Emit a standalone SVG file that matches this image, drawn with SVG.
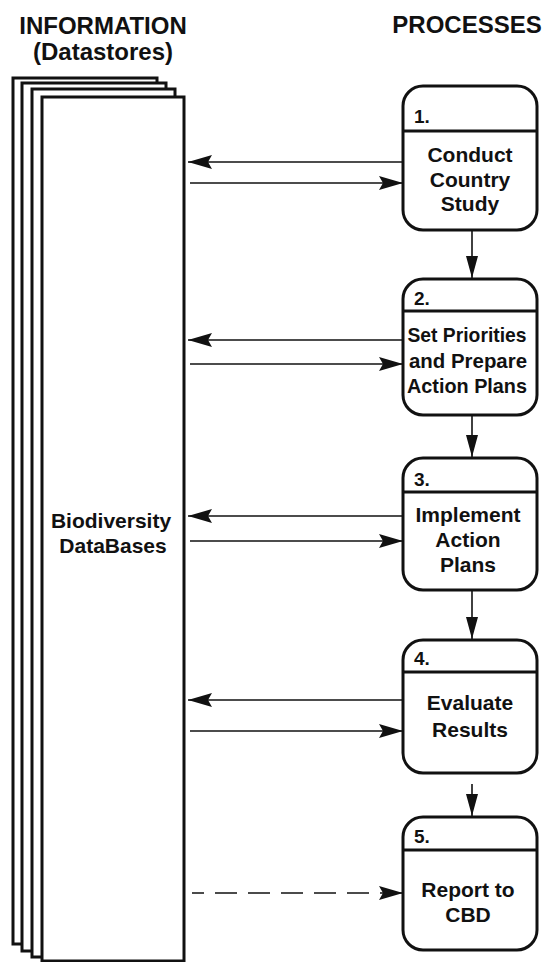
<svg xmlns="http://www.w3.org/2000/svg" width="552" height="962" viewBox="0 0 552 962">
<style>
.hdr{font-family:"Liberation Sans",Arial,sans-serif;font-weight:bold;font-size:24px;fill:#111;text-anchor:middle}
.t{font-family:"Liberation Sans",Arial,sans-serif;font-weight:bold;font-size:21px;fill:#111;text-anchor:middle}
.n{font-family:"Liberation Sans",Arial,sans-serif;font-weight:bold;font-size:19px;fill:#111}
.page{fill:#fff;stroke:#111;stroke-width:3}
.box{fill:#fff;stroke:#111;stroke-width:3}
.div{stroke:#111;stroke-width:3}
.c{stroke:#111;stroke-width:1.6;fill:none}
.dash{stroke-dasharray:22 11}
</style>
<defs>
<marker id="ah" viewBox="0 0 24 14" refX="24" refY="7" markerWidth="24" markerHeight="14" markerUnits="userSpaceOnUse" orient="auto">
<path d="M0,0 L24,7 L0,14 L4,7 Z" fill="#111"/>
</marker>
<marker id="ad" viewBox="0 0 22 12" refX="22" refY="6" markerWidth="22" markerHeight="12" markerUnits="userSpaceOnUse" orient="auto">
<path d="M0,0 L22,6 L0,12 Z" fill="#111"/>
</marker>
</defs>
<rect width="552" height="962" fill="#fff"/>
<text class="hdr" x="103" y="34">INFORMATION</text>
<text class="hdr" x="103" y="60" font-size="21">(Datastores)</text>
<text class="hdr" x="467" y="33">PROCESSES</text>

<g id="datastore">
<rect class="page" x="13" y="78" width="144" height="866"/>
<rect class="page" x="22" y="83" width="144" height="868"/>
<rect class="page" x="32" y="89" width="143" height="868"/>
<rect class="page" x="42" y="97" width="142" height="864"/>
<text class="t" x="111" y="528">Biodiversity</text>
<text class="t" x="113" y="553">DataBases</text>
</g>

<g id="p1">
<rect class="box" x="403" y="86" width="134" height="144" rx="20"/>
<line class="div" x1="403" y1="131" x2="537" y2="131"/>
<text class="n" x="414" y="123">1.</text>
<text class="t" x="470" y="162">Conduct</text>
<text class="t" x="470" y="187">Country</text>
<text class="t" x="470" y="211">Study</text>
</g>
<g id="p2">
<rect class="box" x="403" y="279" width="134" height="136" rx="20"/>
<line class="div" x1="403" y1="311" x2="537" y2="311"/>
<text class="n" x="414" y="305">2.</text>
<text class="t" x="467" y="342" textLength="119" lengthAdjust="spacingAndGlyphs">Set Priorities</text>
<text class="t" x="468" y="368" textLength="118" lengthAdjust="spacingAndGlyphs">and Prepare</text>
<text class="t" x="467" y="393" textLength="120" lengthAdjust="spacingAndGlyphs">Action Plans</text>
</g>
<g id="p3">
<rect class="box" x="403" y="458" width="134" height="132" rx="20"/>
<line class="div" x1="403" y1="492" x2="537" y2="492"/>
<text class="n" x="414" y="486">3.</text>
<text class="t" x="468" y="522">Implement</text>
<text class="t" x="468" y="547">Action</text>
<text class="t" x="468" y="572">Plans</text>
</g>
<g id="p4">
<rect class="box" x="403" y="640" width="134" height="133" rx="20"/>
<line class="div" x1="403" y1="672" x2="537" y2="672"/>
<text class="n" x="414" y="665">4.</text>
<text class="t" x="470" y="710">Evaluate</text>
<text class="t" x="470" y="737">Results</text>
</g>
<g id="p5">
<rect class="box" x="403" y="817" width="134" height="133" rx="20"/>
<line class="div" x1="403" y1="850" x2="537" y2="850"/>
<text class="n" x="414" y="843">5.</text>
<text class="t" x="468" y="897">Report to</text>
<text class="t" x="468" y="922">CBD</text>
</g>

<g id="connectors">
<line class="c" x1="403" y1="162" x2="188" y2="162" marker-end="url(#ah)"/>
<line class="c" x1="190" y1="183" x2="403" y2="183" marker-end="url(#ah)"/>
<line class="c" x1="403" y1="340" x2="188" y2="340" marker-end="url(#ah)"/>
<line class="c" x1="190" y1="364" x2="403" y2="364" marker-end="url(#ah)"/>
<line class="c" x1="403" y1="516" x2="188" y2="516" marker-end="url(#ah)"/>
<line class="c" x1="190" y1="541" x2="403" y2="541" marker-end="url(#ah)"/>
<line class="c" x1="403" y1="700" x2="188" y2="700" marker-end="url(#ah)"/>
<line class="c" x1="190" y1="731" x2="403" y2="731" marker-end="url(#ah)"/>
<line class="c dash" x1="192" y1="893" x2="403" y2="893" stroke-dashoffset="10" marker-end="url(#ah)"/>
<line class="c" x1="472" y1="230" x2="472" y2="278" marker-end="url(#ad)"/>
<line class="c" x1="472" y1="415" x2="472" y2="457" marker-end="url(#ad)"/>
<line class="c" x1="472" y1="590" x2="472" y2="639" marker-end="url(#ad)"/>
<line class="c" x1="472" y1="784" x2="472" y2="816" marker-end="url(#ad)"/>
</g>
</svg>
